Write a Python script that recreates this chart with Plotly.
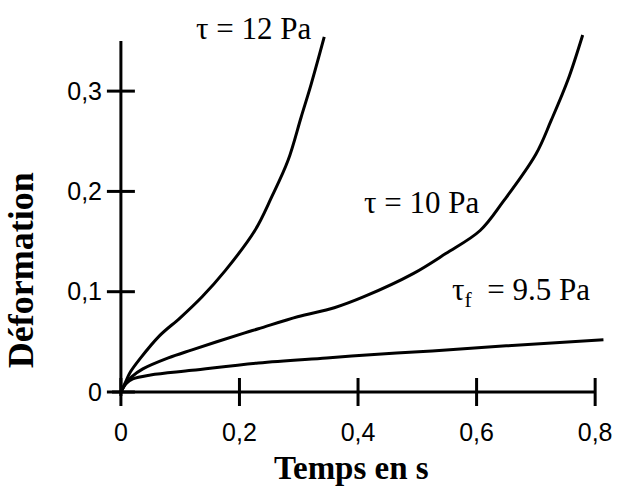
import plotly.graph_objects as go

# Data
t12_x = [0, 0.008, 0.015, 0.032, 0.065, 0.100, 0.137, 0.176, 0.226, 0.254, 0.282, 0.304, 0.321, 0.343]
t12_y = [0, 0.010, 0.019, 0.033, 0.056, 0.074, 0.095, 0.121, 0.161, 0.194, 0.231, 0.274, 0.307, 0.354]

t10_x = [0, 0.008, 0.018, 0.037, 0.080, 0.120, 0.209, 0.232, 0.298, 0.360, 0.410, 0.493, 0.548, 0.606, 0.645, 0.700, 0.726, 0.754, 0.779]
t10_y = [0, 0.008, 0.015, 0.023, 0.034, 0.042, 0.059, 0.063, 0.075, 0.084, 0.095, 0.118, 0.138, 0.161, 0.190, 0.237, 0.271, 0.311, 0.356]

tf_x = [0, 0.008, 0.020, 0.050, 0.120, 0.232, 0.347, 0.465, 0.525, 0.650, 0.814]
tf_y = [0, 0.008, 0.013, 0.017, 0.0216, 0.029, 0.034, 0.039, 0.041, 0.046, 0.052]

x_tickvals = [0, 0.2, 0.4, 0.6, 0.8]
x_ticktext = ["0", "0,2", "0,4", "0,6", "0,8"]
y_tickvals = [0, 0.1, 0.2, 0.3]
y_ticktext = ["0", "0,1", "0,2", "0,3"]

xaxis_line_x = [-0.015, 0.8]
yaxis_line_y = [-0.004, 0.35]

labels = ["τ = 12 Pa", "τ = 10 Pa", "τ<sub>f</sub> \u00a0= 9.5 Pa"]
label_x = [0.223, 0.507, 0.675]
label_y = [0.362, 0.189, 0.100]

BLACK = "#000000"
fig = go.Figure()

# axis lines
fig.add_trace(go.Scatter(x=xaxis_line_x, y=[0, 0], mode="lines",
                         line=dict(color=BLACK, width=3), hoverinfo="skip"))
fig.add_trace(go.Scatter(x=[0, 0], y=yaxis_line_y, mode="lines",
                         line=dict(color=BLACK, width=3), hoverinfo="skip"))
# tick marks
fig.add_trace(go.Scatter(x=x_tickvals, y=[0] * len(x_tickvals), mode="markers",
                         marker=dict(symbol="line-ns", size=20, color=BLACK,
                                     line=dict(color=BLACK, width=3)),
                         cliponaxis=False, hoverinfo="skip"))
fig.add_trace(go.Scatter(x=[0] * len(y_tickvals), y=y_tickvals, mode="markers",
                         marker=dict(symbol="line-ew", size=20, color=BLACK,
                                     line=dict(color=BLACK, width=3)),
                         cliponaxis=False, hoverinfo="skip"))

# curves
for xs, ys in [(t12_x, t12_y), (t10_x, t10_y), (tf_x, tf_y)]:
    fig.add_trace(go.Scatter(x=xs, y=ys, mode="lines",
                             line=dict(color=BLACK, width=3, shape="spline", smoothing=1.0)))

for txt, lx, ly in zip(labels, label_x, label_y):
    fig.add_annotation(x=lx, y=ly, xref="x", yref="y", text=txt, showarrow=False,
                       xanchor="center", yanchor="middle",
                       font=dict(family="Liberation Serif", size=31, color=BLACK))

fig.add_annotation(x=-0.1816, y=0.3455, xref="paper", yref="paper", text="<b>Déformation</b>",
                   textangle=-90, showarrow=False, xanchor="center", yanchor="middle",
                   font=dict(family="Liberation Serif", size=36, color=BLACK))
fig.add_annotation(x=0.485, y=-0.172, xref="paper", yref="paper", text="<b>Temps en s</b>",
                   showarrow=False, xanchor="center", yanchor="middle",
                   font=dict(family="Liberation Serif", size=33, color=BLACK))

fig.update_layout(
    width=620, height=488,
    margin=dict(l=111, r=8, t=20, b=86),
    paper_bgcolor="white", plot_bgcolor="white",
    showlegend=False,
    xaxis=dict(range=[-0.0167, 0.8183], tickvals=x_tickvals, ticktext=x_ticktext,
               showgrid=False, zeroline=False, showline=False, ticks="",
               ticklabelstandoff=13,
               tickfont=dict(family="Liberation Sans", size=25, color=BLACK)),
    yaxis=dict(range=[-0.00997, 0.3709], tickvals=y_tickvals, ticktext=y_ticktext,
               showgrid=False, zeroline=False, showline=False, ticks="",
               ticklabelstandoff=8,
               tickfont=dict(family="Liberation Sans", size=25, color=BLACK)),
)

fig.write_html("out.html")
